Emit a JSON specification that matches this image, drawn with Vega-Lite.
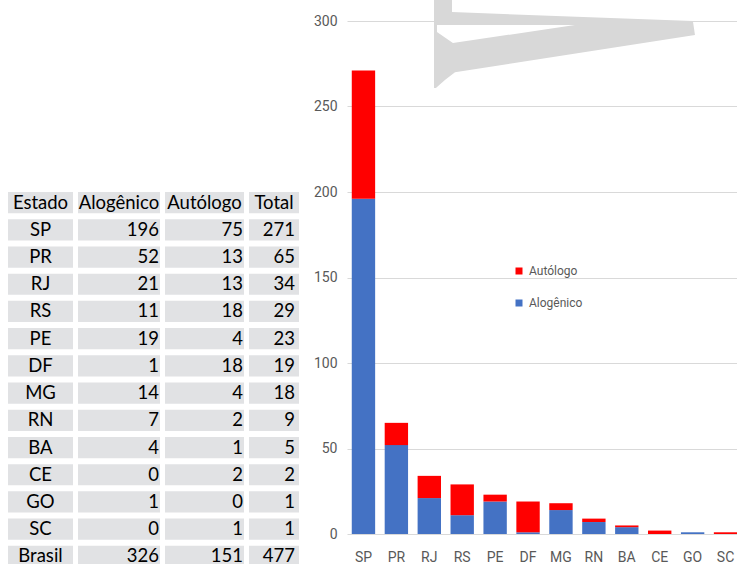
{
  "$schema": "https://vega.github.io/schema/vega-lite/v6.json",
  "padding": {"left": 8, "top": 0, "right": 0, "bottom": 0},
  "background": "#ffffff",
  "config": {"view": {"stroke": null}},
  "datasets": {
    "tabela": [
      {"Estado": "SP", "Alogênico": 196, "Autólogo": 75, "Total": 271},
      {"Estado": "PR", "Alogênico": 52, "Autólogo": 13, "Total": 65},
      {"Estado": "RJ", "Alogênico": 21, "Autólogo": 13, "Total": 34},
      {"Estado": "RS", "Alogênico": 11, "Autólogo": 18, "Total": 29},
      {"Estado": "PE", "Alogênico": 19, "Autólogo": 4, "Total": 23},
      {"Estado": "DF", "Alogênico": 1, "Autólogo": 18, "Total": 19},
      {"Estado": "MG", "Alogênico": 14, "Autólogo": 4, "Total": 18},
      {"Estado": "RN", "Alogênico": 7, "Autólogo": 2, "Total": 9},
      {"Estado": "BA", "Alogênico": 4, "Autólogo": 1, "Total": 5},
      {"Estado": "CE", "Alogênico": 0, "Autólogo": 2, "Total": 2},
      {"Estado": "GO", "Alogênico": 1, "Autólogo": 0, "Total": 1},
      {"Estado": "SC", "Alogênico": 0, "Autólogo": 1, "Total": 1},
      {"Estado": "Brasil", "Alogênico": 326, "Autólogo": 151, "Total": 477}
    ]
  },
  "spacing": 14,
  "hconcat": [
    {
      "spacing": 5,
      "bounds": "flush",
      "hconcat": [
        {
          "width": 65, "height": 546,
          "data": {"name": "tabela"},
          "encoding": {"y": {"field": "Estado", "type": "nominal", "axis": null,
            "scale": {"domain": ["Estado","SP","PR","RJ","RS","PE","DF","MG","RN","BA","CE","GO","SC","Brasil"], "range": [171, 546], "paddingInner": 0.22, "paddingOuter": 0}}},
          "layer": [
            {"mark": {"type": "rect", "color": "#e1e2e4"}},
            {"data": {"values": [{}]}, "mark": {"type": "rect", "color": "#e1e2e4"}, "encoding": {"y": {"datum": "Estado", "type": "nominal"}}},
            {"mark": {"type": "text", "align": "center", "font": "Lato", "fontSize": 18.5, "color": "#000000"}, "encoding": {"text": {"field": "Estado", "type": "nominal"}}},
            {"data": {"values": [{}]}, "mark": {"type": "text", "align": "center", "font": "Lato", "fontSize": 18.5, "color": "#000000"}, "encoding": {"y": {"datum": "Estado", "type": "nominal"}, "text": {"value": "Estado"}}}
          ]
        },
        {
          "width": 82, "height": 546,
          "data": {"name": "tabela"},
          "encoding": {"y": {"field": "Estado", "type": "nominal", "axis": null,
            "scale": {"domain": ["Estado","SP","PR","RJ","RS","PE","DF","MG","RN","BA","CE","GO","SC","Brasil"], "range": [171, 546], "paddingInner": 0.22, "paddingOuter": 0}}},
          "layer": [
            {"mark": {"type": "rect", "color": "#e1e2e4"}},
            {"data": {"values": [{}]}, "mark": {"type": "rect", "color": "#e1e2e4"}, "encoding": {"y": {"datum": "Estado", "type": "nominal"}}},
            {"mark": {"type": "text", "align": "right", "dx": -1, "font": "Lato", "fontSize": 18.5, "color": "#000000"}, "encoding": {"x": {"value": "width"}, "text": {"field": "Alogênico", "type": "nominal"}}},
            {"data": {"values": [{}]}, "mark": {"type": "text", "align": "center", "font": "Lato", "fontSize": 18.5, "color": "#000000"}, "encoding": {"y": {"datum": "Estado", "type": "nominal"}, "text": {"value": "Alogênico"}}}
          ]
        },
        {
          "width": 79, "height": 546,
          "data": {"name": "tabela"},
          "encoding": {"y": {"field": "Estado", "type": "nominal", "axis": null,
            "scale": {"domain": ["Estado","SP","PR","RJ","RS","PE","DF","MG","RN","BA","CE","GO","SC","Brasil"], "range": [171, 546], "paddingInner": 0.22, "paddingOuter": 0}}},
          "layer": [
            {"mark": {"type": "rect", "color": "#e1e2e4"}},
            {"data": {"values": [{}]}, "mark": {"type": "rect", "color": "#e1e2e4"}, "encoding": {"y": {"datum": "Estado", "type": "nominal"}}},
            {"mark": {"type": "text", "align": "right", "dx": -1, "font": "Lato", "fontSize": 18.5, "color": "#000000"}, "encoding": {"x": {"value": "width"}, "text": {"field": "Autólogo", "type": "nominal"}}},
            {"data": {"values": [{}]}, "mark": {"type": "text", "align": "center", "font": "Lato", "fontSize": 18.5, "color": "#000000"}, "encoding": {"y": {"datum": "Estado", "type": "nominal"}, "text": {"value": "Autólogo"}}}
          ]
        },
        {
          "width": 50, "height": 546,
          "data": {"name": "tabela"},
          "encoding": {"y": {"field": "Estado", "type": "nominal", "axis": null,
            "scale": {"domain": ["Estado","SP","PR","RJ","RS","PE","DF","MG","RN","BA","CE","GO","SC","Brasil"], "range": [171, 546], "paddingInner": 0.22, "paddingOuter": 0}}},
          "layer": [
            {"mark": {"type": "rect", "color": "#e1e2e4"}},
            {"data": {"values": [{}]}, "mark": {"type": "rect", "color": "#e1e2e4"}, "encoding": {"y": {"datum": "Estado", "type": "nominal"}}},
            {"mark": {"type": "text", "align": "right", "dx": -4, "font": "Lato", "fontSize": 18.5, "color": "#000000"}, "encoding": {"x": {"value": "width"}, "text": {"field": "Total", "type": "nominal"}}},
            {"data": {"values": [{}]}, "mark": {"type": "text", "align": "center", "font": "Lato", "fontSize": 18.5, "color": "#000000"}, "encoding": {"y": {"datum": "Estado", "type": "nominal"}, "text": {"value": "Total"}}}
          ]
        }
      ]
    },
    {
      "width": 395, "height": 513,
      "encoding": {
        "x": {"field": "Estado", "type": "nominal",
          "sort": ["SP","PR","RJ","RS","PE","DF","MG","RN","BA","CE","GO","SC"],
          "scale": {"domain": ["SP","PR","RJ","RS","PE","DF","MG","RN","BA","CE","GO","SC"], "paddingInner": 0.29, "paddingOuter": 0.145},
          "axis": {"title": null, "labelAngle": 0, "ticks": false, "domain": false, "labelPadding": 16, "labelFont": "Roboto", "labelFontSize": 14, "labelColor": "#595959"}},
        "y": {"field": "Valor", "type": "quantitative", "stack": "zero",
          "scale": {"domain": [0, 300], "nice": false},
          "axis": {"title": null, "values": [0, 50, 100, 150, 200, 250, 300], "ticks": false, "domain": false, "gridColor": "#d9d9d9", "labelPadding": 10, "labelFont": "Roboto", "labelFontSize": 14, "labelColor": "#595959"}}
      },
      "layer": [
        {
          "data": {"values": [{"Estado": "MG", "Valor": 286.5}]},
          "mark": {"type": "point", "filled": true, "opacity": 1, "color": "#d8d8d8", "size": 68121,
            "shape": "M-0.973,-0.337 L-0.835,-0.337 L-0.835,-0.245 L1.011,-0.176 L1.027,-0.069 L-0.812,0.215 L-0.889,0.276 L-0.958,0.337 L-0.973,0.337 Z M-0.950,-0.146 L-0.950,-0.092 L-0.828,-0.008 L0.107,-0.146 Z"},
          "encoding": {"y": {"field": "Valor", "type": "quantitative", "stack": null}}
        },
        {
          "data": {"name": "tabela"},
          "transform": [
            {"filter": "datum.Estado !== 'Brasil'"},
            {"fold": ["Alogênico", "Autólogo"], "as": ["Série", "Valor"]}
          ],
          "mark": {"type": "bar"},
          "encoding": {
            "color": {"field": "Série", "type": "nominal",
              "scale": {"domain": ["Autólogo", "Alogênico"], "range": ["#FF0000", "#4472C4"]},
              "legend": {"title": null, "orient": "none", "legendX": 505, "legendY": 244, "symbolType": "square", "symbolSize": 49, "symbolStrokeWidth": 0, "labelFont": "Roboto", "labelFontSize": 12, "labelColor": "#595959", "rowPadding": 20}},
            "order": {"field": "Série", "type": "nominal", "sort": "ascending"}
          }
        }
      ]
    }
  ]
}
